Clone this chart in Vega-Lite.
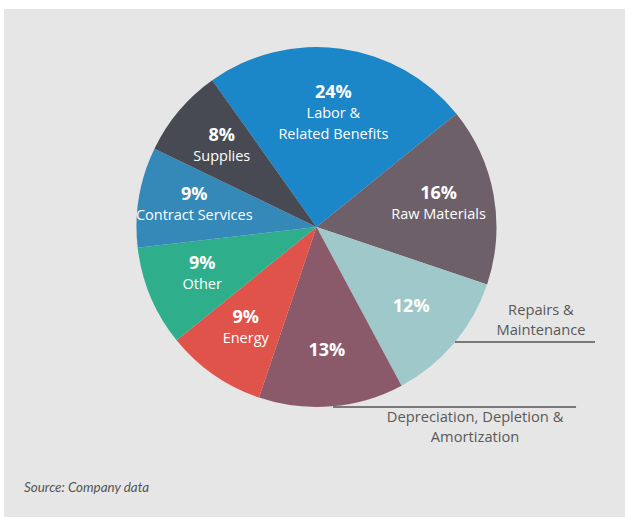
{
  "$schema": "https://vega.github.io/schema/vega-lite/v6.json",
  "width": 621,
  "height": 508,
  "autosize": {"type": "none"},
  "padding": {"left": 4, "top": 9, "right": 0, "bottom": 1},
  "background": "white",
  "config": {"view": {"fill": "#e6e6e6", "stroke": null}, "font": "Open Sans"},
  "title": {"text": "Source: Company data", "orient": "bottom", "anchor": "start", "offset": -36, "dx": 20, "font": "Lato", "fontStyle": "italic", "fontWeight": "normal", "fontSize": 13.4, "color": "#555555"},
  "datasets": {
    "costs": [
      {"category": "Labor & Related Benefits", "value": 24, "order": 1, "pct": "24%", "label": ["Labor &", "Related Benefits"]},
      {"category": "Raw Materials", "value": 16, "order": 2, "pct": "16%", "label": ["Raw Materials"]},
      {"category": "Repairs & Maintenance", "value": 12, "order": 3, "pct": "12%", "label": ""},
      {"category": "Depreciation, Depletion & Amortization", "value": 13, "order": 4, "pct": "13%", "label": ""},
      {"category": "Energy", "value": 9, "order": 5, "pct": "9%", "label": ["Energy"]},
      {"category": "Other", "value": 9, "order": 6, "pct": "9%", "label": ["Other"]},
      {"category": "Contract Services", "value": 9, "order": 7, "pct": "9%", "label": ["Contract Services"]},
      {"category": "Supplies", "value": 8, "order": 8, "pct": "8%", "label": ["Supplies"]}
    ],
    "callouts": [
      {"lines": ["Repairs &", "Maintenance"], "tx": 1.247, "ty": -0.467, "x1": 0.769, "x2": 1.547, "ly": -0.639},
      {"lines": ["Depreciation, Depletion &", "Amortization"], "tx": 0.881, "ty": -1.061, "x1": 0.092, "x2": 1.442, "ly": -1.0}
    ]
  },
  "layer": [
    {
      "data": {"name": "costs"},
      "mark": {"type": "arc", "radius": 180},
      "encoding": {
        "x": {"datum": 0, "type": "quantitative", "scale": {"domain": [-1.7361, 1.7139], "nice": false, "zero": false}, "axis": null},
        "y": {"datum": 0, "type": "quantitative", "scale": {"domain": [-1.6111, 1.2111], "nice": false, "zero": false}, "axis": null},
        "theta": {"field": "value", "type": "quantitative", "stack": true, "scale": {"range": [-0.6178, 5.6654]}},
        "order": {"field": "order", "type": "quantitative"},
        "color": {
          "field": "category", "type": "nominal", "legend": null,
          "scale": {
            "domain": ["Labor & Related Benefits", "Raw Materials", "Repairs & Maintenance", "Depreciation, Depletion & Amortization", "Energy", "Other", "Contract Services", "Supplies"],
            "range": ["#1b86c8", "#6d6068", "#9ec8c9", "#8b5a6a", "#e0534a", "#2eae8a", "#3589b9", "#474a52"]
          }
        }
      }
    },
    {
      "data": {"name": "costs"},
      "mark": {"type": "text", "radius": 124, "font": "Open Sans", "fontWeight": "bold", "fontSize": 18, "color": "white", "dy": {"expr": "datum.label ? -11 : 0"}},
      "encoding": {
        "x": {"datum": 0, "type": "quantitative", "scale": {"domain": [-1.7361, 1.7139], "nice": false, "zero": false}, "axis": null},
        "y": {"datum": 0, "type": "quantitative", "scale": {"domain": [-1.6111, 1.2111], "nice": false, "zero": false}, "axis": null},
        "theta": {"field": "value", "type": "quantitative", "stack": true, "scale": {"range": [-0.6178, 5.6654]}},
        "order": {"field": "order", "type": "quantitative"},
        "text": {"field": "pct"}
      }
    },
    {
      "data": {"name": "costs"},
      "mark": {"type": "text", "radius": 124, "font": "Open Sans", "fontSize": 14.5, "color": "white", "baseline": "top", "dy": 3, "lineHeight": 21},
      "encoding": {
        "x": {"datum": 0, "type": "quantitative", "scale": {"domain": [-1.7361, 1.7139], "nice": false, "zero": false}, "axis": null},
        "y": {"datum": 0, "type": "quantitative", "scale": {"domain": [-1.6111, 1.2111], "nice": false, "zero": false}, "axis": null},
        "theta": {"field": "value", "type": "quantitative", "stack": true, "scale": {"range": [-0.6178, 5.6654]}},
        "order": {"field": "order", "type": "quantitative"},
        "text": {"field": "label"}
      }
    },
    {
      "data": {"name": "callouts"},
      "mark": {"type": "rule", "color": "#555555", "strokeWidth": 1.5},
      "encoding": {
        "x": {"field": "x1", "type": "quantitative", "scale": {"domain": [-1.7361, 1.7139], "nice": false, "zero": false}, "axis": null},
        "x2": {"field": "x2"},
        "y": {"field": "ly", "type": "quantitative", "scale": {"domain": [-1.6111, 1.2111], "nice": false, "zero": false}, "axis": null}
      }
    },
    {
      "data": {"name": "callouts"},
      "mark": {"type": "text", "font": "Open Sans", "fontSize": 14.7, "color": "#595959", "lineHeight": 20},
      "encoding": {
        "x": {"field": "tx", "type": "quantitative", "scale": {"domain": [-1.7361, 1.7139], "nice": false, "zero": false}, "axis": null},
        "y": {"field": "ty", "type": "quantitative", "scale": {"domain": [-1.6111, 1.2111], "nice": false, "zero": false}, "axis": null},
        "text": {"field": "lines"}
      }
    }
  ]
}
